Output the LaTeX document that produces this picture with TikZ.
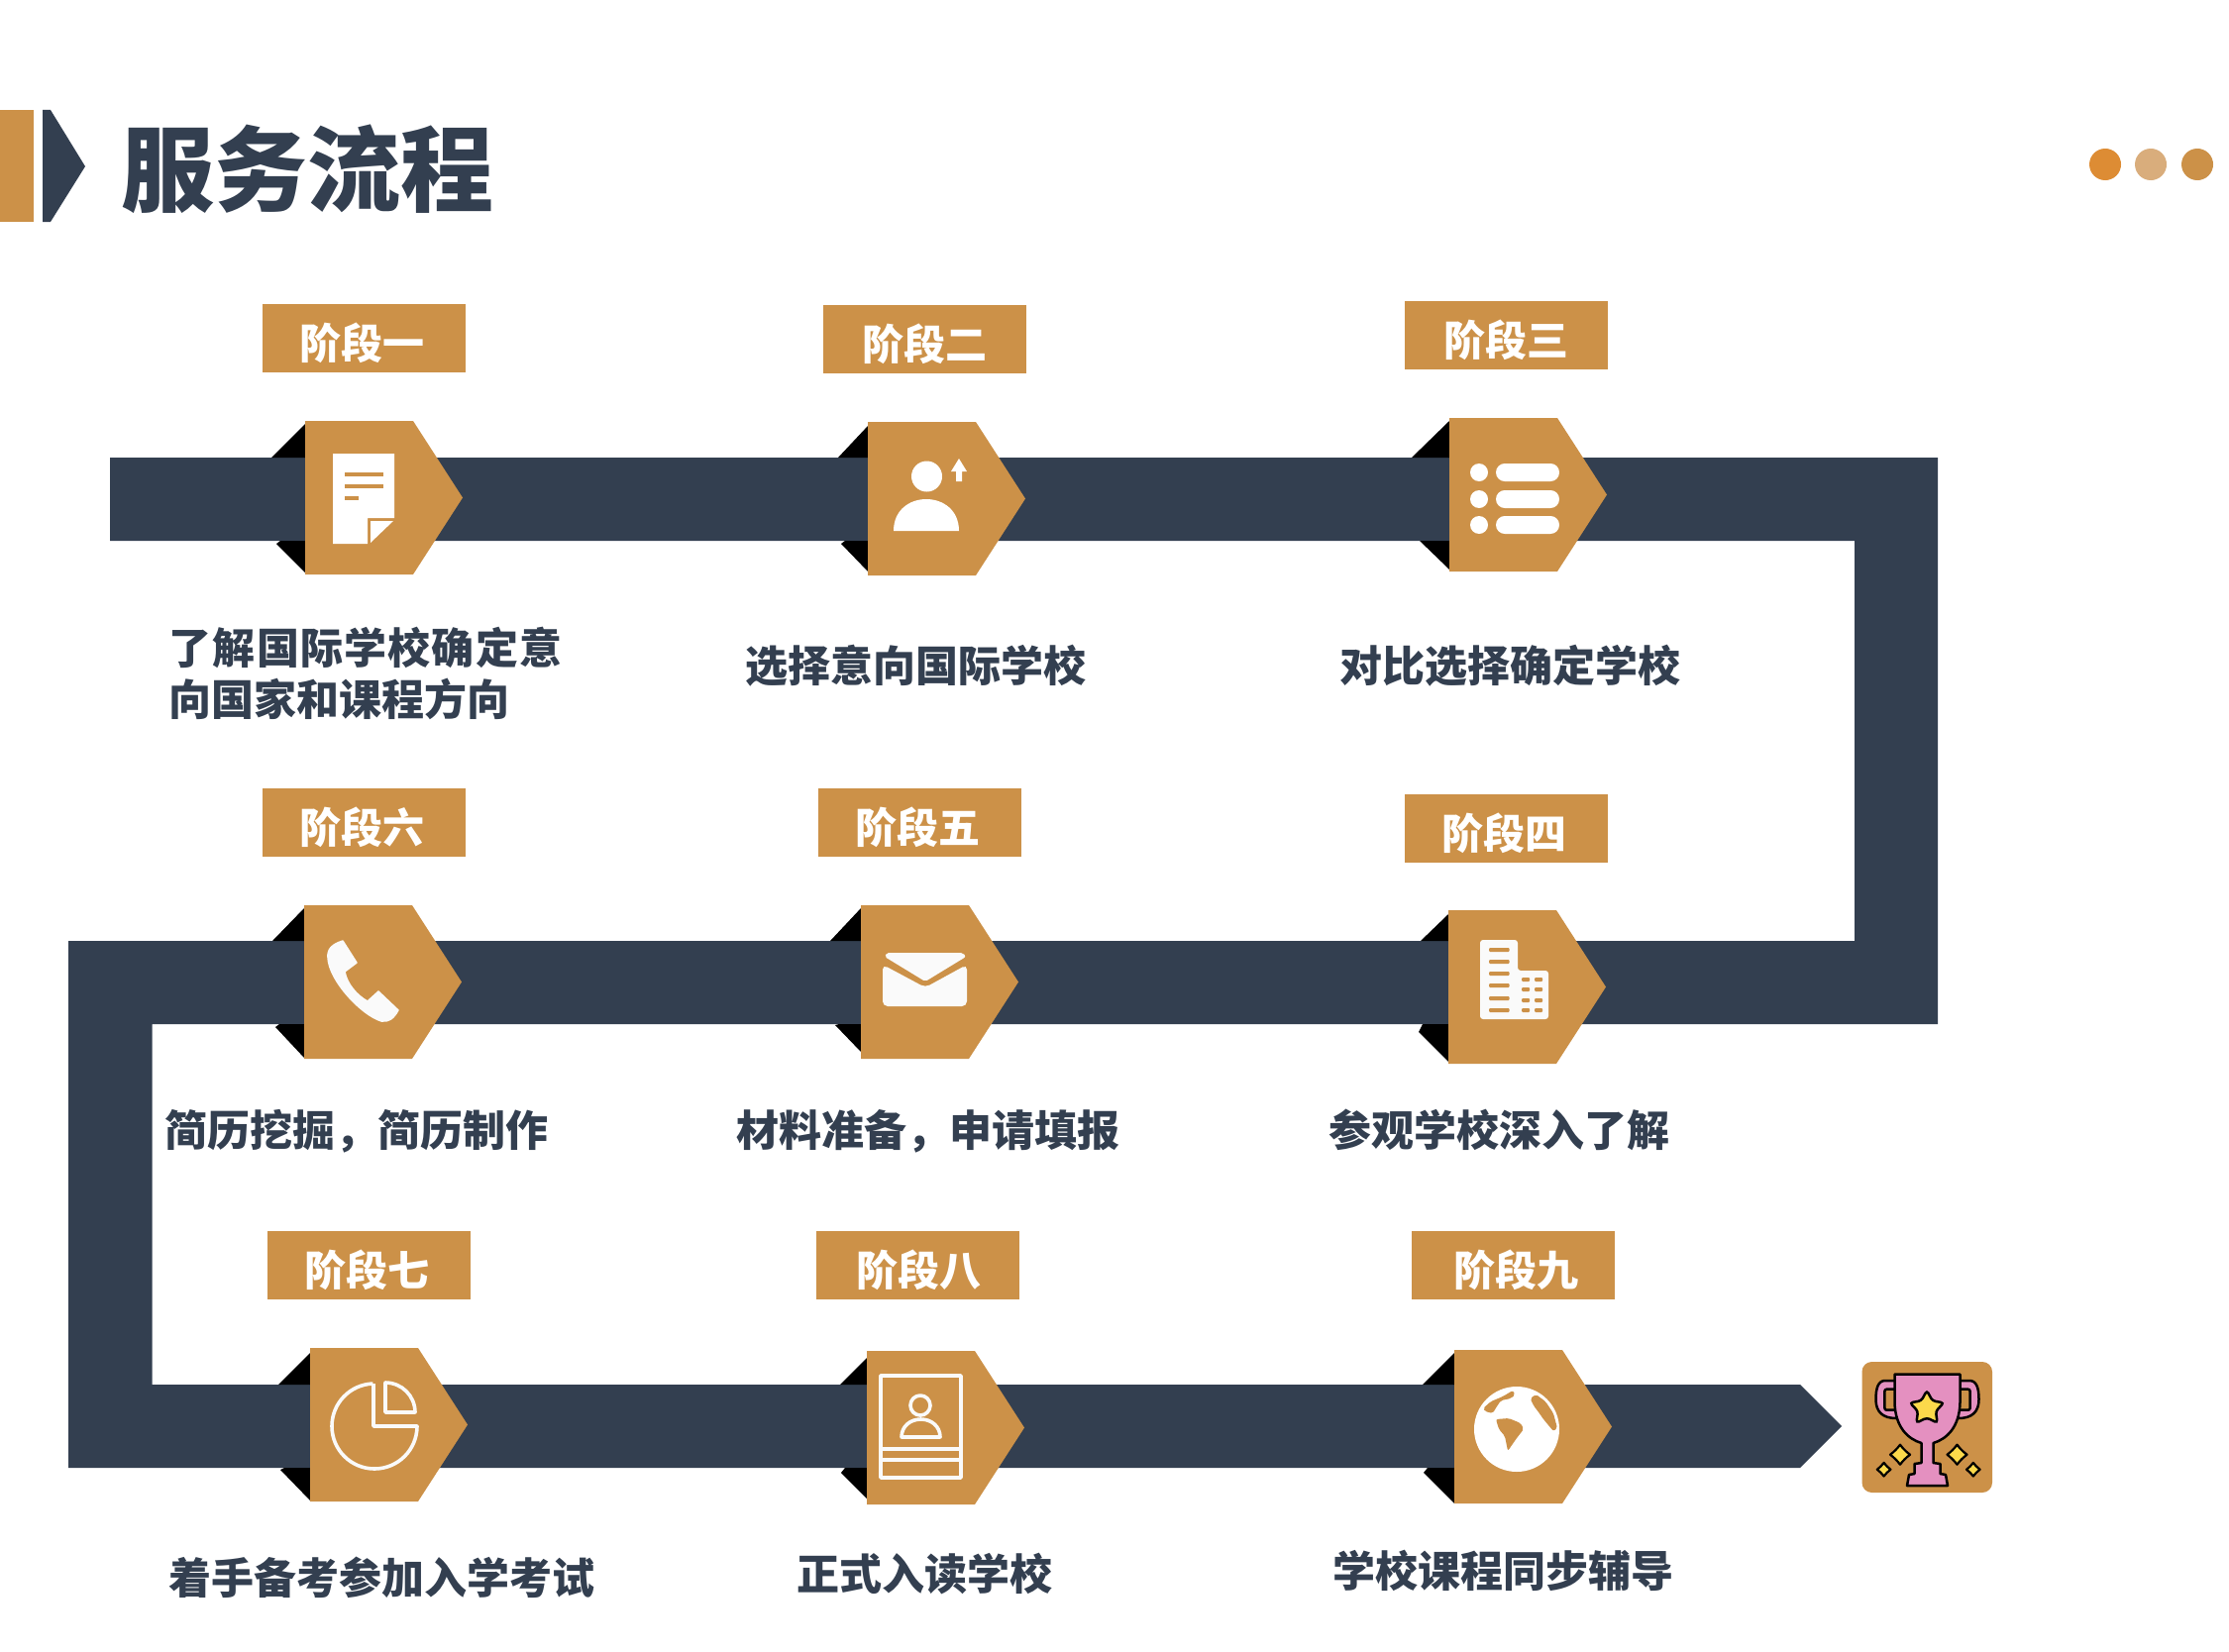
\documentclass[tikz,border=0pt]{standalone}
\usepackage{fontspec}
\setmainfont{Noto Sans CJK SC}
\definecolor{band}{HTML}{333F50}
\definecolor{accent}{HTML}{CC9148}
\definecolor{dotA}{HTML}{DD8C34}
\definecolor{dotB}{HTML}{D9AD7C}
\definecolor{pinkcup}{HTML}{E490C0}
\definecolor{goldstar}{HTML}{FBD94B}
\definecolor{iconwhite}{HTML}{FAFAFA}
\newcommand{\hexa}[2]{\fill[accent] (#1,#2) -- ++(109,0) -- ++(50,77.5) -- ++(-50,77.5) -- ++(-109,0) -- cycle;}
\newcommand{\wings}[9]{%
 \fill[black] (#1,#2) -- (#1,#3) -- (#4,#3) -- cycle;
 \fill[black] (#1,#5) -- (#1,#6) -- (#7+4,#6) -- (#7,#8) -- cycle;}
\newcommand{\sparkle}[3]{%
 \fill[goldstar,draw=black,line width=2.2pt,line join=round] (#1,#2-#3) .. controls (#1+.3*#3,#2-.6*#3) and (#1+.6*#3,#2-.3*#3) .. (#1+#3,#2) .. controls (#1+.6*#3,#2+.3*#3) and (#1+.3*#3,#2+.6*#3) .. (#1,#2+#3) .. controls (#1-.3*#3,#2+.6*#3) and (#1-.6*#3,#2+.3*#3) .. (#1-#3,#2) .. controls (#1-.6*#3,#2-.3*#3) and (#1-.3*#3,#2-.6*#3) .. (#1,#2-#3) -- cycle;}
\tikzset{
 x=1pt,y=-1pt,
 stagebox/.style={fill=accent,text=white,inner sep=0pt,minimum width=205pt,minimum height=69pt,font=\fontsize{42}{42}\selectfont\bfseries,text height=46pt,text depth=5pt},
 desc/.style={text=band,inner sep=0pt,font=\fontsize{43}{52}\selectfont\bfseries,text height=37pt,text depth=5pt},
 whiteline/.style={draw=iconwhite,line width=3.6pt,line join=round},
 slot/.style={fill=accent}
}
\begin{document}
\begin{tikzpicture}
\useasboundingbox (0,0) rectangle (2250,1667);
\fill[white] (0,0) rectangle (2250,1667);
% header
\fill[accent] (0,111) rectangle (34,224);
\fill[band] (43,111) -- (51,111) -- (86,168) -- (51,224) -- (43,224) -- cycle;
\node[text=band,inner sep=0pt,font=\fontsize{94}{94}\selectfont\bfseries,text height=82pt,text depth=11pt] (title) at (310,171) {服务流程};
\fill[dotA] (2125,166) circle[radius=16pt];
\fill[dotB] (2171,166) circle[radius=16pt];
\fill[accent] (2218,166) circle[radius=16pt];
% band
\fill[band] (111,462) -- (1956,462) -- (1956,1034) -- (153.5,1034) -- (153.5,1398) -- (1817,1398) -- (1859,1440) -- (1817,1482) -- (69,1482) -- (69,950) -- (1872,950) -- (1872,546) -- (111,546) -- cycle;
% wings: left, top edge y, row top, apex x, bottom edge y, row bottom, apex x, apex y
\wings{308}{428}{462}{274}{578}{546}{279}{549}{}
\wings{876}{430}{462}{846}{577}{546}{849}{549}{}
\wings{1463}{425}{462}{1425}{575}{546}{1433}{546}{}
\wings{307}{917}{950}{275}{1068}{1034}{278}{1037}{}
\wings{869}{917}{950}{838}{1062}{1034}{843}{1035}{}
\wings{1462}{923}{950}{1434}{1072}{1034}{1432}{1042}{}
\wings{313}{1366}{1398}{281}{1515}{1482}{283}{1484}{}
\wings{875}{1371}{1398}{848}{1513}{1482}{849}{1487}{}
\wings{1468}{1366}{1398}{1436}{1518}{1482}{1437}{1487}{}
% hexagons
\hexa{308}{425}
\hexa{876}{426}
\hexa{1463}{422}
\hexa{307}{914}
\hexa{869}{914}
\hexa{1462}{919}
\hexa{313}{1361}
\hexa{875}{1364}
\hexa{1468}{1363}
% icon 1: document
\fill[white] (336,458) -- (398,458) -- (398,523) -- (371,523) -- (371,549) -- (336,549) -- cycle;
\fill[white] (374,526) -- (397,526) -- (374,548) -- cycle;
\fill[slot] (347.5,477) rectangle (387,481);
\fill[slot] (347.5,489) rectangle (387,493);
\fill[slot] (347.5,501) rectangle (362,505);
% icon 2: person
\fill[white] (935.5,481) circle[radius=15.5pt];
\fill[white] (902,536) .. controls (902,515) and (918,504) .. (935,504) .. controls (952,504) and (968,515) .. (968,536) -- cycle;
\fill[white] (968,463) -- (976,476) -- (971,476) -- (971,486) -- (965,486) -- (965,476) -- (960,476) -- cycle;
% icon 3: list
\foreach \yy in {477,504,530}{
 \fill[white] (1493,\yy) circle[radius=9pt];
 \fill[white,rounded corners=8.9pt] (1510,\yy-9) rectangle (1574,\yy+9);
}
% icon 4: buildings
\fill[iconwhite,rounded corners=3pt] (1494,949) -- (1532,949) -- (1532,980) -- (1563,980) -- (1563,1029) -- (1494,1029) -- cycle;
\foreach \yy in {959,971,983,995,1008,1020}{\fill[slot,rounded corners=1pt] (1503,\yy-2) rectangle (1523.7,\yy+2);}
\foreach \yy in {989,999,1010,1020}{
 \fill[slot,rounded corners=1pt] (1536,\yy-2) rectangle (1544,\yy+2);
 \fill[slot,rounded corners=1pt] (1549,\yy-2) rectangle (1557,\yy+2);
}
% icon 5: envelope
\fill[iconwhite,rounded corners=2pt] (893,966) -- (895,962) -- (972,962) -- (975,966) -- (934,991) -- cycle;
\fill[iconwhite,rounded corners=5pt] (891,974) -- (934,997) -- (976,974) -- (976,1016) -- (891,1016) -- cycle;
% icon 6: phone
\fill[iconwhite,draw=iconwhite,line width=1.5pt,line join=round] (346,950) -- (360,972) -- (348,981) .. controls (350,993) and (360,1005) .. (371,1011) -- (382,1001) -- (402,1020) .. controls (397,1029) and (392,1032) .. (385,1031) .. controls (365,1025) and (332,990) .. (331,967) .. controls (330,958) and (336,953) .. (346,950) -- cycle;
% icon 7: pie
\draw[whiteline] (377,1397) -- (377,1440) -- (421,1440) arc[start angle=0,end angle=-268,x radius=43pt,y radius=43pt];
\draw[whiteline] (389,1396) -- (389,1426) -- (419,1426) arc[start angle=0,end angle=90,radius=30pt] -- cycle;
% icon 8: card
\draw[whiteline] (889,1389) rectangle (970,1492);
\draw[whiteline] (889,1463) -- (970,1463);
\draw[whiteline] (889,1474) -- (970,1474);
\draw[whiteline] (929,1419) circle[radius=10pt];
\draw[whiteline] (910,1451) .. controls (910,1440) and (919,1433) .. (929.5,1433) .. controls (940,1433) and (949,1440) .. (949,1451) -- cycle;
% icon 9: globe
\fill[white] (1531,1443) circle[radius=43pt];
\fill[slot,rounded corners=2pt] (1497,1422) -- (1505,1415) -- (1517,1410) -- (1527,1404) -- (1529.5,1408) -- (1525,1412) -- (1515,1414) -- (1509,1423) -- (1507,1427) -- (1499,1425) -- cycle;
\fill[slot,rounded corners=2pt] (1544.6,1412) -- (1550.5,1408) -- (1560,1415) -- (1568,1427) -- (1572,1442) -- (1568,1445) -- (1558,1433) -- (1552.5,1425) -- (1548.5,1420) -- cycle;
\fill[slot,rounded corners=2pt] (1510,1433) -- (1523,1432) -- (1535,1437) -- (1538,1443) -- (1531,1452) -- (1522,1465) -- (1519,1450) -- (1513,1443) -- cycle;
% trophy box
\fill[accent,rounded corners=10pt] (1879.5,1375) rectangle (2011,1507);
% handles
\fill[pinkcup,draw=black,line width=2.5pt,line join=round] (1914,1394) -- (1903,1394) .. controls (1896,1394) and (1893.5,1401) .. (1893.5,1413) .. controls (1893.5,1425) and (1900,1432) .. (1914,1432) -- (1977,1432) .. controls (1991,1432) and (1997.5,1425) .. (1997.5,1413) .. controls (1997.5,1401) and (1995,1394) .. (1988,1394) -- (1977,1394) -- cycle;
\fill[accent,draw=black,line width=2.5pt,rounded corners=2pt] (1902.4,1402.7) rectangle (1914,1423.7);
\fill[accent,draw=black,line width=2.5pt,rounded corners=2pt] (1976.7,1402.7) rectangle (1988.6,1423.7);
% cup
\fill[pinkcup,draw=black,line width=2.5pt,line join=round] (1912.5,1394) -- (1912.5,1387.7) -- (1978.5,1387.7) -- (1978.5,1394) -- (1978.5,1416) .. controls (1978,1441) and (1965,1453) .. (1951.5,1457) -- (1951.5,1477) -- (1958.5,1478) -- (1958.5,1488) -- (1964,1489) -- (1966,1500) -- (1925,1500) -- (1927,1489) -- (1932.5,1488) -- (1932.5,1478) -- (1939.5,1477) -- (1939.5,1457) .. controls (1926,1453) and (1913,1441) .. (1912.5,1416) -- cycle;
% star
\fill[goldstar,draw=black,line width=2.5pt,rounded corners=3pt] (1945,1404) -- (1950.6,1414.3) -- (1962.1,1416.4) -- (1954,1424.9) -- (1955.6,1436.6) -- (1945,1431.5) -- (1934.4,1436.6) -- (1936,1424.9) -- (1927.9,1416.4) -- (1939.4,1414.3) -- cycle;
\sparkle{1918}{1468.7}{10}
\sparkle{1975.5}{1468.7}{10}
\sparkle{1901.6}{1483.7}{6.8}
\sparkle{1991.8}{1483.7}{6.8}
% stage labels
\node[stagebox] (s1) at (367,341.5) {\hspace*{-4pt}阶段一};
\node[stagebox] (s2) at (933.5,342.5) {阶段二};
\node[stagebox] (s3) at (1520.5,338.5) {阶段三};
\node[stagebox] (s6) at (367,830.5) {\hspace*{-4pt}阶段六};
\node[stagebox] (s5) at (928,830.5) {\hspace*{-3pt}阶段五};
\node[stagebox] (s4) at (1520.5,836.5) {\hspace*{-4pt}阶段四};
\node[stagebox] (s7) at (372.5,1277.5) {\hspace*{-4pt}阶段七};
\node[stagebox] (s8) at (926.5,1277.5) {\hspace*{2pt}阶段八};
\node[stagebox] (s9) at (1527.5,1277.5) {\hspace*{6pt}阶段九};
% descriptions
\node[desc,anchor=west] (d1a) at (170.5,654) {\addfontfeature{LetterSpace=2.8}了解国际学校确定意};
\node[desc,anchor=west] (d1b) at (170.5,706) {向国家和课程方向};
\node[desc] (d2) at (924,672) {选择意向国际学校};
\node[desc] (d3) at (1524,672) {对比选择确定学校};
\node[desc] (d6) at (359.5,1141) {简历挖掘，简历制作};
\node[desc] (d5) at (936.5,1141) {材料准备，申请填报};
\node[desc] (d4) at (1513,1141) {参观学校深入了解};
\node[desc] (d7) at (385,1593) {着手备考参加入学考试};
\node[desc] (d8) at (933.5,1589) {正式入读学校};
\node[desc] (d9) at (1517,1586) {学校课程同步辅导};
\end{tikzpicture}
\end{document}
